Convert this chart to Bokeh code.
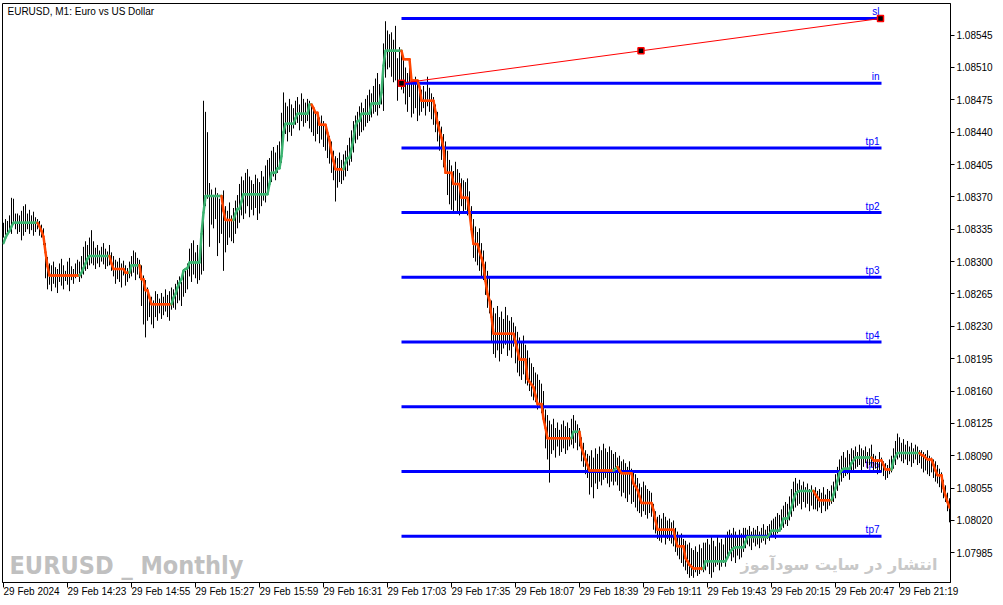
from bokeh.plotting import figure
from bokeh.models import Range1d, FixedTicker, NumeralTickFormatter, Label, ColumnDataSource
from bokeh.core.properties import value
from bokeh.embed import file_html
from bokeh.resources import INLINE

# ---------------- data (prices in points above 1.08000, one bar per minute from 13:51) ----------------
BASE = 1.08
PT = 0.00001

HIGH = [
    342, 346, 344, 350, 369, 368, 352, 352, 350, 355,
    360, 362, 352, 356, 350, 354, 348, 346, 344, 340,
    336, 320, 305, 298, 296, 300, 294, 292, 298, 303,
    296, 290, 300, 304, 295, 292, 298, 302, 300, 306,
    316, 322, 318, 326, 334, 322, 315, 318, 312, 316,
    320, 314, 311, 318, 310, 306, 302, 300, 304, 298,
    301, 296, 293, 300, 306, 312, 310, 304, 302, 296,
    285, 280, 272, 262, 262, 258, 268, 265, 260, 266,
    262, 270, 264, 268, 272, 270, 276, 280, 284, 278,
    292, 290, 298, 314, 320, 323, 310, 318, 312, 330,
    474, 462, 440, 385, 378, 372, 380, 374, 368, 362,
    377, 360, 355, 364, 350, 358, 366, 372, 384, 392,
    388, 396, 400, 392, 388, 384, 394, 390, 386, 398,
    392, 404, 410, 412, 420, 424, 418, 426, 430, 461,
    483, 472, 468, 476, 470, 466, 474, 478, 470, 482,
    476, 472, 476, 474, 470, 466, 460, 462, 456, 458,
    452, 448, 440, 436, 430, 420, 414, 412, 418, 410,
    416, 420, 426, 434, 442, 452, 458, 462, 468, 472,
    466, 476, 480, 486, 482, 490, 498, 504, 492, 488,
    536, 560, 550, 546, 548, 540, 555, 520, 532, 528,
    518, 510, 504, 512, 498, 492, 500, 494, 488, 486,
    490, 484, 500, 488, 482, 478, 470, 462, 452, 446,
    438, 430, 420, 410, 404, 398, 408, 400, 396, 390,
    388, 386, 390, 376, 360, 346, 338, 332, 336, 320,
    312, 300, 290, 282, 258, 250, 244, 252, 240, 246,
    238, 251, 242, 236, 240, 234, 230, 224, 218, 214,
    220, 210, 204, 196, 190, 186, 180, 178, 172, 168,
    160, 140, 134, 128, 124, 130, 120, 126, 118, 124,
    128, 122, 126, 120, 130, 134, 128, 124, 120, 110,
    104, 96, 92, 90, 96, 88, 98, 92, 100, 96,
    103, 98, 94, 100, 96, 92, 94, 88, 90, 84,
    86, 82, 78, 84, 76, 72, 70, 66, 60, 56,
    62, 58, 54, 52, 50, 38, 30, 24, 26, 22,
    28, 24, 20, 22, 18, 20, 12, 8, 4, 6,
    0, -2, -6, -4, -10, -12, -8, -14, -6, -10,
    -4, -4, 0, -6, 2, -2, -8, 4, -4, 0,
    -6, 2, 8, 10, 6, 12, 8, 4, 10, 6,
    12, 12, 10, 14, 8, 12, 10, 14, 8, 12,
    16, 10, 14, 16, 20, 22, 24, 28, 26, 32,
    36, 40, 38, 46, 54, 62, 66, 60, 64, 58,
    62, 56, 60, 54, 58, 52, 56, 52, 54, 50,
    56, 48, 54, 52, 58, 62, 70, 78, 86, 90,
    94, 88, 96, 92, 98, 96, 100, 94, 102, 98,
    96, 100, 94, 98, 102, 92, 90, 86, 94, 88,
    84, 82, 80, 86, 90, 98, 106, 114, 110, 104,
    108, 102, 106, 100, 104, 98, 102, 100, 96, 96,
    94, 92, 96, 90, 88, 86, 84, 80, 76, 72,
    64, 58, 50, 44,
]

LOW = [
    326, 329, 332, 333, 330, 340, 335, 330, 332, 323,
    328, 332, 335, 330, 334, 328, 332, 335, 328, 326,
    318, 282, 270, 275, 268, 276, 272, 266, 278, 274,
    270, 279, 275, 268, 280, 276, 282, 285, 278, 282,
    286, 290, 292, 296, 298, 296, 292, 298, 294, 300,
    297, 292, 295, 296, 290, 284, 276, 281, 278, 272,
    285, 274, 278, 282, 284, 288, 280, 286, 282, 252,
    232, 218, 236, 240, 232, 228, 240, 236, 244, 238,
    242, 246, 240, 236, 248, 250, 248, 255, 258, 252,
    262, 266, 270, 284, 278, 286, 282, 276, 280, 286,
    290, 360, 368, 316, 340, 336, 346, 306, 320, 330,
    290, 310, 318, 326, 322, 320, 330, 336, 342, 350,
    346, 352, 360, 348, 356, 350, 358, 345, 352, 360,
    366, 364, 372, 380, 386, 392, 388, 396, 400, 407,
    436, 438, 430, 440, 436, 444, 448, 450, 442, 452,
    446, 450, 452, 444, 440, 436, 430, 438, 428, 432,
    424, 420, 412, 406, 396, 388, 365, 380, 386, 384,
    388, 392, 398, 404, 408, 418, 428, 432, 436, 440,
    442, 446, 450, 452, 456, 460, 462, 458, 466, 470,
    463, 499, 508, 510, 500, 494, 496, 474, 490, 486,
    482, 470, 462, 478, 456, 460, 466, 452, 458, 462,
    466, 458, 468, 462, 454, 448, 440, 430, 420, 410,
    402, 396, 372, 362, 356, 352, 366, 354, 350, 360,
    352, 356, 350, 346, 330, 304, 300, 296, 290, 284,
    280, 264, 250, 244, 214, 200, 196, 204, 192, 200,
    206, 210, 198, 204, 196, 208, 190, 180, 176, 172,
    178, 168, 166, 160, 154, 150, 148, 140, 144, 136,
    126, 98, 86, 61, 92, 96, 88, 100, 90, 94,
    98, 92, 96, 100, 102, 98, 104, 96, 100, 84,
    78, 70, 66, 48, 56, 44, 60, 54, 62, 58,
    64, 66, 60, 56, 62, 58, 62, 58, 52, 46,
    50, 44, 40, 48, 38, 40, 34, 30, 28, 24,
    30, 26, 22, 28, 24, 10, 6, 0, -2, -4,
    2, -6, 0, -2, -5, -8, -14, -18, -22, -26,
    -30, -34, -38, -42, -40, -42, -36, -40, -38, -34,
    -36, -34, -30, -38, -42, -36, -30, -28, -34, -30,
    -26, -30, -22, -18, -24, -20, -26, -18, -22, -20,
    -14, -10, -6, -8, -12, -4, -8, -6, -10, -4,
    -2, -6, 0, -2, 2, 4, 0, 6, 8, 10,
    12, 16, 14, 20, 24, 30, 34, 36, 38, 32,
    40, 34, 38, 30, 36, 32, 32, 30, 34, 28,
    36, 30, 32, 36, 38, 40, 44, 52, 58, 62,
    66, 68, 70, 64, 72, 74, 76, 78, 80, 74,
    78, 82, 76, 80, 78, 72, 76, 70, 74, 72,
    68, 64, 66, 70, 72, 76, 80, 86, 88, 84,
    82, 86, 80, 84, 78, 82, 86, 80, 82, 76,
    72, 74, 70, 68, 72, 66, 62, 60, 56, 50,
    44, 40, 30, 18,
]

MA = [
    320, 326, 330, 333, 338, 342, 342, 342, 342, 342,
    342, 342, 342, 342, 342, 342, 342, 342, 338, 333,
    327, 310, 295, 285, 285, 285, 285, 285, 285, 285,
    285, 285, 285, 285, 285, 285, 285, 285, 285, 288,
    293, 298, 303, 306, 306, 306, 306, 306, 306, 306,
    306, 306, 306, 306, 298, 292, 292, 292, 292, 292,
    292, 288, 288, 288, 296, 296, 296, 296, 296, 281,
    281, 269, 269, 261, 254, 254, 254, 254, 254, 254,
    254, 254, 254, 254, 254, 261, 265, 272, 277, 281,
    290, 292, 293, 299, 299, 299, 299, 299, 299, 330,
    353, 371, 371, 371, 371, 371, 371, 371, 371, 371,
    355, 345, 345, 345, 345, 345, 352, 357, 357, 365,
    373, 373, 373, 373, 373, 373, 373, 373, 373, 373,
    373, 373, 373, 384, 396, 396, 396, 401, 401, 414,
    440, 449, 449, 449, 449, 449, 455, 460, 460, 460,
    460, 460, 460, 470, 470, 466, 461, 461, 448, 448,
    448, 448, 439, 431, 418, 409, 400, 400, 400, 400,
    400, 407, 412, 412, 422, 433, 447, 452, 452, 460,
    460, 460, 460, 460, 471, 471, 471, 471, 471, 483,
    512, 528, 528, 528, 528, 528, 528, 528, 528, 528,
    519, 519, 519, 519, 496, 496, 496, 496, 489, 474,
    474, 474, 474, 474, 474, 474, 462, 450, 442, 434,
    423, 396, 396, 396, 396, 384, 384, 384, 384, 369,
    369, 369, 369, 353, 335, 319, 319, 319, 311, 304,
    296, 279, 265, 258, 240, 222, 222, 222, 222, 222,
    222, 222, 222, 222, 222, 222, 213, 204, 194, 194,
    194, 194, 173, 170, 167, 164, 155, 146, 146, 146,
    130, 120, 109, 109, 109, 109, 109, 109, 109, 109,
    109, 109, 109, 109, 109, 116, 116, 116, 116, 99,
    92, 86, 80, 74, 74, 74, 74, 74, 74, 74,
    74, 74, 74, 74, 74, 74, 76, 78, 74, 71,
    71, 71, 71, 71, 71, 60, 57, 53, 46, 39,
    39, 39, 39, 39, 39, 31, 20, 10, 10, 10,
    10, 10, 10, 10, 10, 10, 0, -8, -8, -8,
    -8, -21, -24, -28, -30, -32, -32, -32, -32, -32,
    -32, -24, -24, -24, -24, -24, -24, -24, -24, -24,
    -24, -24, -20, -15, -12, -10, -9, -9, -9, -9,
    -9, -3, 2, 2, 2, 2, 2, 2, 2, 2,
    2, 2, 2, 5, 9, 9, 9, 9, 9, 15,
    22, 22, 22, 28, 34, 42, 49, 51, 52, 52,
    52, 52, 52, 52, 52, 52, 48, 45, 42, 42,
    42, 42, 42, 42, 42, 48, 55, 63, 71, 74,
    76, 76, 76, 76, 82, 85, 88, 88, 88, 88,
    88, 88, 88, 88, 88, 85, 85, 85, 85, 85,
    80, 75, 75, 75, 75, 85, 89, 93, 93, 93,
    93, 93, 93, 93, 93, 93, 93, 93, 93, 91,
    90, 88, 86, 86, 86, 80, 74, 69, 69, 69,
    55, 47, 40, 34,
]

LEVEL_NAMES = ["sl", "in", "tp1", "tp2", "tp3", "tp4", "tp5", "tp6", "tp7"]
LEVEL_PRICES = [1.08563, 1.08493, 1.08423, 1.08353, 1.08283, 1.08213, 1.08143, 1.08073, 1.08003]
LEVEL_START = 199      # bar index (17:10)
LEVEL_END = 439        # bar index (21:10)
TREND_X = [199, 438.5]
TREND_Y = [1.08493, 1.08563]

Y_TICKS = [1.07985, 1.08020, 1.08055, 1.08090, 1.08125, 1.08160, 1.08195, 1.08230, 1.08265,
           1.08300, 1.08335, 1.08370, 1.08405, 1.08440, 1.08475, 1.08510, 1.08545]
X_TICKS = [0, 32, 64, 96, 128, 160, 192, 224, 256, 288, 320, 352, 384, 416, 448]
X_LABELS = ["29 Feb 2024", "29 Feb 14:23", "29 Feb 14:55", "29 Feb 15:27", "29 Feb 15:59",
            "29 Feb 16:31", "29 Feb 17:03", "29 Feb 17:35", "29 Feb 18:07", "29 Feb 18:39",
            "29 Feb 19:11", "29 Feb 19:43", "29 Feb 20:15", "29 Feb 20:47", "29 Feb 21:19"]

TITLE = "EURUSD, M1:  Euro vs US Dollar"
WATERMARK_L = "EURUSD _ Monthly"
WATERMARK_R = "انتشار در سایت سودآموز"

# ---------------- build ----------------
N = len(HIGH)
xs = list(range(N))
hi = [BASE + v * PT for v in HIGH]
lo = [BASE + v * PT for v in LOW]
ma = [BASE + v * PT for v in MA]

GREEN = "#3CB371"
ORANGE = "#FF4500"
seg_x0, seg_x1, seg_y0, seg_y1, seg_c = [], [], [], [], []
up = True
for i in range(1, N):
    if MA[i] > MA[i - 1]:
        up = True
    elif MA[i] < MA[i - 1]:
        up = False
    seg_x0.append(i - 1); seg_x1.append(i)
    seg_y0.append(ma[i - 1]); seg_y1.append(ma[i])
    seg_c.append(GREEN if up else ORANGE)

Y_MIN, Y_MAX = 1.079529, 1.085792
X_MIN, X_MAX = -0.5, 473.5

p = figure(frame_width=948, frame_height=579,
           x_range=Range1d(X_MIN, X_MAX), y_range=Range1d(Y_MIN, Y_MAX),
           y_axis_location="right", toolbar_location=None, output_backend="svg",
           min_border_left=2, min_border_top=3, min_border_right=0, min_border_bottom=0,
           background_fill_color="white", border_fill_color="white",
           outline_line_color="black", outline_line_width=1)
p.grid.visible = False

FONT = "Liberation Sans"

# y axis (right)
ya = p.yaxis[0]
ya.ticker = FixedTicker(ticks=Y_TICKS)
ya.formatter = NumeralTickFormatter(format="0.00000")
ya.major_tick_out = 4
ya.major_tick_in = 0
ya.minor_tick_out = 0
ya.minor_tick_in = 0
ya.major_label_standoff = 2
ya.axis_line_color = "black"
ya.major_tick_line_color = "black"
ya.major_label_text_font = FONT
ya.major_label_text_font_size = "10px"
ya.major_label_text_color = "black"

# x axis: labels start at their tick (tiny negative orientation -> left anchored)
xa = p.xaxis[0]
xa.ticker = FixedTicker(ticks=X_TICKS)
xa.major_label_overrides = {t: s for t, s in zip(X_TICKS, X_LABELS)}
xa.major_label_orientation = -0.0001
xa.major_tick_out = 5
xa.major_tick_in = 0
xa.minor_tick_out = 0
xa.minor_tick_in = 0
xa.major_label_standoff = 4
xa.axis_line_color = "black"
xa.major_tick_line_color = "black"
xa.major_label_text_font = FONT
xa.major_label_text_font_size = "10px"
xa.major_label_text_color = "black"

# watermarks (anchored in price units of the chart)
WM_L_X, WM_L_Y = 3, 1.079713
WM_R_X, WM_R_Y = 467, 1.079724
p.add_layout(Label(x=WM_L_X, y=WM_L_Y, text=WATERMARK_L, text_font="DejaVu Sans Condensed",
                   text_font_style="bold", text_font_size="25px", text_color="#C0C0C0",
                   text_baseline="alphabetic", text_align="left"))
p.add_layout(Label(x=WM_R_X, y=WM_R_Y, text=WATERMARK_R, text_font="DejaVu Sans",
                   text_font_style="bold", text_font_size="16px", text_color="#C8C8C8",
                   text_baseline="alphabetic", text_align="right"))

# level labels
p.text(x=[LEVEL_END] * len(LEVEL_NAMES), y=LEVEL_PRICES, text=LEVEL_NAMES,
       text_align="right", text_baseline="bottom", x_offset=-2, y_offset=-1,
       text_font=value(FONT), text_font_size="10px", text_color="#0000FF")

# bars
bars = ColumnDataSource(dict(x=xs, hi=hi, lo=lo))
p.segment(x0="x", y0="lo", x1="x", y1="hi", source=bars, line_color="black", line_width=1)

# horizontal levels
p.segment(x0=[LEVEL_START] * len(LEVEL_PRICES), y0=LEVEL_PRICES,
          x1=[LEVEL_END] * len(LEVEL_PRICES), y1=LEVEL_PRICES,
          line_color="#0000FF", line_width=3)

# moving average (two colours)
mas = ColumnDataSource(dict(x0=seg_x0, x1=seg_x1, y0=seg_y0, y1=seg_y1, c=seg_c))
p.segment(x0="x0", y0="y0", x1="x1", y1="y1", color="c", source=mas, line_width=2.5, line_cap="round")

# trend line with anchor squares
p.line(TREND_X, TREND_Y, line_color="red", line_width=1)
mx = [TREND_X[0], (TREND_X[0] + TREND_X[1]) / 2, TREND_X[1]]
my = [TREND_Y[0], (TREND_Y[0] + TREND_Y[1]) / 2, TREND_Y[1]]
p.scatter(mx, my, marker="square", size=6, fill_color="black", line_color="red", line_width=1.5)

# title
p.add_layout(Label(x=X_MIN, y=Y_MAX, x_offset=5, y_offset=-2, text=TITLE, text_font=FONT,
                   text_font_size="10px", text_color="black", text_baseline="top", text_align="left"))

open("out.html", "w").write(file_html(p, INLINE))
